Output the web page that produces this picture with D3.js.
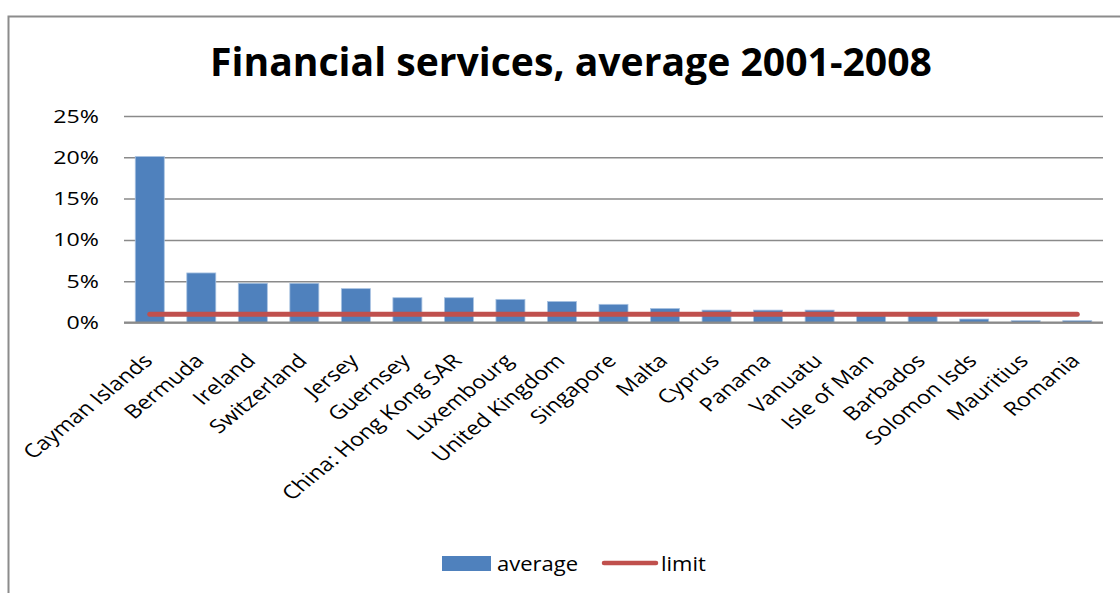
<!DOCTYPE html>
<html>
<head>
<meta charset="utf-8">
<script src="https://cdn.jsdelivr.net/npm/d3@7"></script>
<style>
  body { margin: 0; background: #ffffff; }
  svg { display: block; }
</style>
</head>
<body>
<svg id="chart" width="1120" height="593"></svg>
<script>
// Financial services share, average over 2001-2008, by economy
const categories = [
  "Cayman Islands", "Bermuda", "Ireland", "Switzerland", "Jersey", "Guernsey",
  "China: Hong Kong SAR", "Luxembourg", "United Kingdom", "Singapore", "Malta",
  "Cyprus", "Panama", "Vanuatu", "Isle of Man", "Barbados", "Solomon Isds",
  "Mauritius", "Romania"
];
const averageValues = [
  0.201, 0.060, 0.0475, 0.0475, 0.041, 0.030, 0.030, 0.028, 0.0255, 0.022, 0.017,
  0.015, 0.015, 0.015, 0.010, 0.009, 0.0042, 0.0022, 0.0022
];
const limitValues = [
  0.01, 0.01, 0.01, 0.01, 0.01, 0.01, 0.01, 0.01, 0.01, 0.01, 0.01,
  0.01, 0.01, 0.01, 0.01, 0.01, 0.01, 0.01, 0.01
];
const yTicks = [0, 0.05, 0.10, 0.15, 0.20, 0.25];
const titleText = "Financial services, average 2001-2008";
const legendLabels = ["average", "limit"];

const BLUE = "#4f81bd";
const RED = "#c0504d";
const GRID = "#8a8a8a";
const FONT = "'Open Sans', 'DejaVu Sans', sans-serif";
// the chart's lettering is set a little wide
const WIDE_AXIS = 1.22;
const WIDE_CAT = 1.23;
const WIDE_LEGEND = 1.1;

const svg = d3.select("#chart");

// outer chart frame
svg.append("rect")
  .attr("x", 8.5).attr("y", 16.5)
  .attr("width", 1300).attr("height", 1000)
  .attr("fill", "#ffffff")
  .attr("stroke", "#8c8c8c").attr("stroke-width", 2);

const plot = { left: 124, right: 1103, top: 116, bottom: 322.5 };

const x = d3.scaleBand()
  .domain(categories)
  .range([plot.left, plot.right])
  .paddingInner(0.437)
  .paddingOuter(0.2185);

const y = d3.scaleLinear()
  .domain([0, 0.25])
  .range([plot.bottom, plot.top]);

// horizontal gridlines and percentage labels
const yAxis = d3.axisLeft(y)
  .tickValues(yTicks)
  .tickSize(-(plot.right - plot.left))
  .tickFormat(d3.format(".0%"));

const gy = svg.append("g")
  .attr("transform", `translate(${plot.left},0)`)
  .call(yAxis);
gy.select(".domain").remove();
gy.selectAll(".tick line")
  .attr("stroke", GRID).attr("stroke-width", 1.5);
gy.selectAll(".tick text")
  .attr("font-family", FONT).attr("font-size", 19)
  .attr("fill", "#000")
  .attr("x", 0)
  .attr("transform", `translate(-25,0) scale(${WIDE_AXIS},1)`);

// bars
svg.append("g").selectAll("rect")
  .data(categories)
  .join("rect")
  .attr("x", d => x(d))
  .attr("width", x.bandwidth())
  .attr("y", (d, i) => y(averageValues[i]))
  .attr("height", (d, i) => y(0) - y(averageValues[i]))
  .attr("fill", BLUE)
  .attr("stroke", "#a9c3e2")
  .attr("stroke-width", 0.8);

// category axis along zero line
const xAxis = d3.axisBottom(x).tickSize(0).tickPadding(0);
const gx = svg.append("g")
  .attr("transform", `translate(0,${plot.bottom})`)
  .call(xAxis);
gx.select(".domain").remove();
svg.append("line")
  .attr("x1", plot.left).attr("x2", plot.right)
  .attr("y1", plot.bottom).attr("y2", plot.bottom)
  .attr("stroke", GRID).attr("stroke-width", 1.8);

gx.selectAll(".tick text")
  .attr("font-family", FONT).attr("font-size", 19)
  .attr("fill", "#000")
  .attr("text-anchor", "end")
  .attr("dy", null)
  .attr("y", null)
  .attr("transform", `translate(4,39.5) scale(${WIDE_CAT},1) rotate(-45)`);

// limit line
const line = d3.line()
  .x((d, i) => x(categories[i]) + x.bandwidth() / 2)
  .y(d => y(d));

svg.append("path")
  .datum(limitValues)
  .attr("d", line)
  .attr("fill", "none")
  .attr("stroke", RED)
  .attr("stroke-width", 5)
  .attr("stroke-linecap", "round");

// title, fitted to its span
const title = svg.append("text")
  .attr("x", 571).attr("y", 76)
  .attr("text-anchor", "middle")
  .attr("font-family", FONT)
  .attr("font-weight", 700)
  .attr("font-size", 36)
  .attr("fill", "#000")
  .text(titleText);
const tw = title.node().getComputedTextLength();
title.attr("font-size", 36 * 722 / tw);

// legend
const lg = svg.append("g");
lg.append("rect")
  .attr("x", 442).attr("y", 556)
  .attr("width", 49).attr("height", 15)
  .attr("fill", BLUE);
lg.append("text")
  .attr("transform", `translate(497,571) scale(${WIDE_LEGEND},1)`)
  .attr("font-family", FONT).attr("font-size", 20)
  .attr("fill", "#000")
  .text(legendLabels[0]);
lg.append("line")
  .attr("x1", 604).attr("x2", 656)
  .attr("y1", 563).attr("y2", 563)
  .attr("stroke", RED).attr("stroke-width", 4.5)
  .attr("stroke-linecap", "round");
lg.append("text")
  .attr("transform", `translate(661,571) scale(${WIDE_LEGEND},1)`)
  .attr("font-family", FONT).attr("font-size", 20)
  .attr("fill", "#000")
  .text(legendLabels[1]);
</script>
</body>
</html>
